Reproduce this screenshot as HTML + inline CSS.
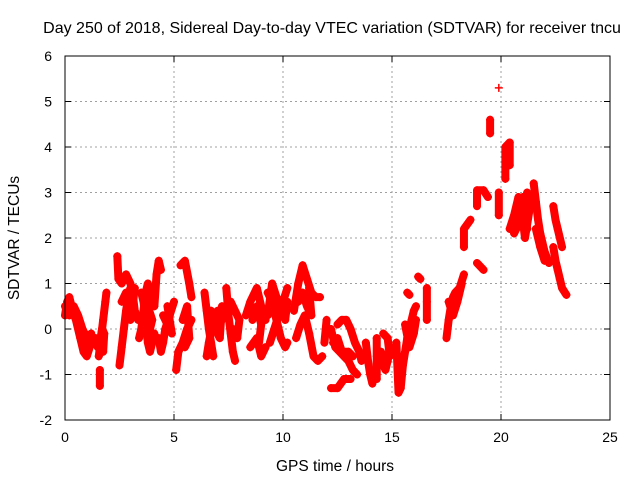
<!DOCTYPE html>
<html><head><meta charset="utf-8"><style>
body{margin:0;background:#fff}
svg{display:block;font-family:"Liberation Sans",sans-serif}
</style></head><body>
<svg id="chart" width="640" height="480">
<text x="332" y="33" font-size="16" text-anchor="middle">Day 250 of 2018, Sidereal Day-to-day VTEC variation (SDTVAR) for receiver tncu</text>
<text x="335" y="471" font-size="15.5" text-anchor="middle">GPS time / hours</text>
<text transform="translate(19,238) rotate(-90)" font-size="15.5" text-anchor="middle">SDTVAR / TECUs</text>
<g id="grid"></g>
<g id="ticks"></g>
<g id="marks"></g>
<rect x="65" y="56" width="545" height="364" fill="none" stroke="#000" stroke-width="1"/>
</svg>
<script>
const xTicks=[0,5,10,15,20,25];
const yTicks=[-2,-1,0,1,2,3,4,5,6];
const tracks=[
[[0,0.3],[0.1,0.6],[0.2,0.7],[0.35,0.4],[0.5,0.2],[0.7,-0.2],[0.85,-0.5],[1.0,-0.6],[1.2,-0.3],[1.4,-0.2],[1.5,-0.4]],
[[0.0,0.5],[0.2,0.3],[0.4,0.5],[0.6,0.3],[0.8,0.0],[1.0,-0.2],[1.2,-0.1],[1.0,-0.4],[0.8,-0.3]],
[[1.55,-0.6],[1.65,-0.2],[1.75,0.2],[1.85,0.6],[1.9,0.8]],
[[1.6,-0.3],[1.7,0.0],[1.8,-0.1],[1.75,-0.5]],
[[1.6,-0.9],[1.6,-1.25]],
[[2.4,1.6],[2.45,1.1],[2.6,1.0],[2.8,1.2],[3.0,1.0],[3.1,0.8],[3.2,0.4],[3.35,0.2]],
[[2.5,-0.8],[2.6,-0.4],[2.7,0.0],[2.8,0.4],[2.9,0.7],[3.0,0.9]],
[[2.6,0.6],[2.8,0.8],[2.9,0.3],[3.1,0.5],[3.2,0.9],[3.0,0.2]],
[[3.4,-0.2],[3.5,0.0],[3.6,0.4],[3.7,0.8],[3.8,1.0],[3.9,0.8],[4.0,0.6]],
[[3.5,0.8],[3.6,0.6],[3.7,0.2],[3.8,-0.3],[3.9,-0.5],[4.0,-0.3],[4.1,-0.1]],
[[3.6,0.3],[3.8,0.5],[4.0,0.2],[3.9,0.0]],
[[4.1,0.5],[4.2,1.2],[4.3,1.5],[4.4,1.3]],
[[4.3,-0.2],[4.4,-0.5],[4.5,-0.3],[4.6,0.0],[4.8,0.3],[5.0,0.6]],
[[4.5,0.3],[4.7,0.1],[4.9,-0.1],[4.7,0.5]],
[[5.3,1.4],[5.5,1.5],[5.7,1.0],[5.8,0.7]],
[[5.1,-0.9],[5.2,-0.5],[5.4,-0.3],[5.6,0.0],[5.8,0.2]],
[[5.4,0.2],[5.6,0.5],[5.7,-0.2],[5.5,-0.4]],
[[6.4,0.8],[6.5,0.4],[6.6,0.0],[6.7,-0.3],[6.8,-0.6]],
[[6.5,-0.6],[6.6,-0.3],[6.8,0.2],[7.0,0.4],[7.2,0.2]],
[[6.7,0.4],[6.9,0.0],[7.1,-0.2],[7.2,0.5]],
[[7.4,0.9],[7.5,0.3],[7.6,-0.1],[7.7,-0.5],[7.8,-0.7]],
[[7.6,0.6],[7.8,0.4],[8.0,0.2],[7.9,-0.2],[7.7,0.0]],
[[8.3,0.3],[8.5,0.6],[8.8,0.9],[9.0,0.5],[9.2,0.2]],
[[8.5,-0.4],[8.8,-0.2],[9.0,-0.6],[9.2,-0.4]],
[[8.6,0.2],[8.8,0.5],[9.0,0.1],[8.9,-0.3]],
[[9.3,0.8],[9.5,0.6],[9.7,0.2],[9.9,-0.2],[10.1,-0.4],[10.2,-0.3]],
[[9.4,-0.3],[9.6,0.0],[9.8,0.3],[10.0,0.6],[10.2,0.9]],
[[9.3,0.3],[9.5,1.0],[9.7,0.7],[9.9,0.5],[10.1,0.2],[10.2,0.6]],
[[10.5,0.4],[10.7,1.0],[10.9,1.4],[11.1,1.1],[11.3,0.8],[11.5,0.7],[11.7,0.7]],
[[10.6,-0.2],[10.8,0.1],[11.0,0.3],[11.2,-0.1],[11.4,-0.6],[11.6,-0.7],[11.8,-0.6]],
[[10.7,0.6],[10.9,0.8],[11.1,0.5],[11.3,0.3],[11.2,0.9]],
[[11.9,-0.3],[12.0,0.2]],
[[12.2,-1.3],[12.5,-1.3],[12.8,-1.1],[13.1,-1.1]],
[[12.2,0.0],[12.4,-0.4],[12.6,-0.5],[12.8,-0.6],[13.0,-0.7],[13.2,-0.9],[13.4,-1.0]],
[[12.5,0.1],[12.7,0.2],[12.9,0.2],[13.1,0.0],[13.3,-0.3],[13.5,-0.5],[13.6,-0.7]],
[[12.3,-0.3],[12.5,-0.2],[12.7,-0.5],[13.0,-0.5],[13.2,-0.6]],
[[13.8,-0.3],[13.9,-0.7],[14.0,-1.0],[14.1,-1.2]],
[[14.3,-0.2],[14.3,-0.6],[14.3,-1.1]],
[[14.5,-0.5],[14.6,-0.8],[14.7,-0.9],[14.8,-0.7],[14.9,-0.4]],
[[14.6,-0.1],[14.8,-0.2],[14.9,-0.6]],
[[15.2,-0.3],[15.3,-1.4],[15.4,-1.3],[15.5,-0.8],[15.6,-0.5],[15.7,-0.2],[15.8,0.0],[15.9,0.2],[16.0,0.4],[16.1,0.5]],
[[15.6,0.1],[15.8,-0.4],[16.0,-0.1],[16.1,0.2]],
[[15.7,0.8],[15.8,0.75]],
[[16.2,1.15],[16.3,1.1]],
[[16.6,0.9],[16.6,0.6],[16.6,0.2]],
[[17.5,-0.2],[17.6,0.2],[17.7,0.5],[17.8,0.7],[17.9,0.8],[18.1,0.9],[18.3,1.2]],
[[17.6,0.6],[17.8,0.3],[18.0,0.6],[18.2,1.0]],
[[18.3,1.8],[18.3,2.2],[18.6,2.4]],
[[18.9,2.7],[18.9,3.05],[19.2,3.05],[19.4,2.9]],
[[18.9,1.45],[19.2,1.3]],
[[19.5,4.3],[19.5,4.6]],
[[19.9,5.3]],
[[19.9,2.5],[19.9,3.0]],
[[20.2,3.3],[20.2,4.0],[20.4,4.1],[20.4,3.6]],
[[20.4,2.2],[20.6,2.5],[20.8,2.9],[21.0,2.4],[21.1,2.0],[21.3,2.6],[21.2,3.0]],
[[20.6,2.1],[20.8,2.3],[21.0,2.9],[21.2,2.2]],
[[21.5,3.2],[21.6,2.8],[21.7,2.4],[21.8,2.1],[21.9,1.9],[22.0,1.7],[22.2,1.45]],
[[21.6,2.2],[21.8,1.8],[22.0,1.5]],
[[22.4,2.7],[22.5,2.4],[22.6,2.2],[22.8,1.8]],
[[22.4,1.8],[22.5,1.5],[22.6,1.3],[22.7,1.1],[22.8,0.9],[23.0,0.75]]
];
const X=t=>65+t*21.8, Y=v=>329-v*45.5;
const ns="http://www.w3.org/2000/svg";
const g=document.getElementById('grid'),tk=document.getElementById('ticks'),m=document.getElementById('marks');
function mk(tag,at,parent){const e=document.createElementNS(ns,tag);for(const k in at)e.setAttribute(k,at[k]);parent.appendChild(e);return e;}
xTicks.forEach(t=>{const x=X(t);
 if(t>0&&t<25){const l=mk('line',{x1:x,x2:x,y1:56,y2:420,stroke:'#a0a0a0','stroke-dasharray':'2,3'},g);
 
 }
 mk('line',{x1:x,x2:x,y1:420,y2:414,stroke:'#000'},tk);mk('line',{x1:x,x2:x,y1:56,y2:62,stroke:'#000'},tk);
 const tx=mk('text',{x:x,y:442,'font-size':14,'text-anchor':'middle'},tk);tx.textContent=t;
 
 
});
yTicks.forEach(v=>{const y=Y(v);
 if(v>-2&&v<6){const l=mk('line',{x1:65,x2:610,y1:y,y2:y,stroke:'#a0a0a0','stroke-dasharray':'2,3'},g);
 
 }
 mk('line',{x1:65,x2:71,y1:y,y2:y,stroke:'#000'},tk);mk('line',{x1:610,x2:604,y1:y,y2:y,stroke:'#000'},tk);
 const tx=mk('text',{x:52,y:y+5,'font-size':14,'text-anchor':'end'},tk);tx.textContent=v;
 
 
});
tracks.forEach(tr=>{
 const pl=mk('polyline',{points:tr.map(p=>X(p[0])+','+Y(p[1])).join(' '),fill:'none',stroke:'#f00','stroke-width':8,'stroke-linejoin':'round','stroke-linecap':'round'},m);
 
 
 tr.forEach(p=>{const x=X(p[0]),y=Y(p[1]);
  const pt=mk('path',{d:`M${x-4},${y}H${x+4}M${x},${y-4}V${y+4}`,stroke:'#f00','stroke-width':1.5},m);
  
  
 });
});
</script>
</body></html>
